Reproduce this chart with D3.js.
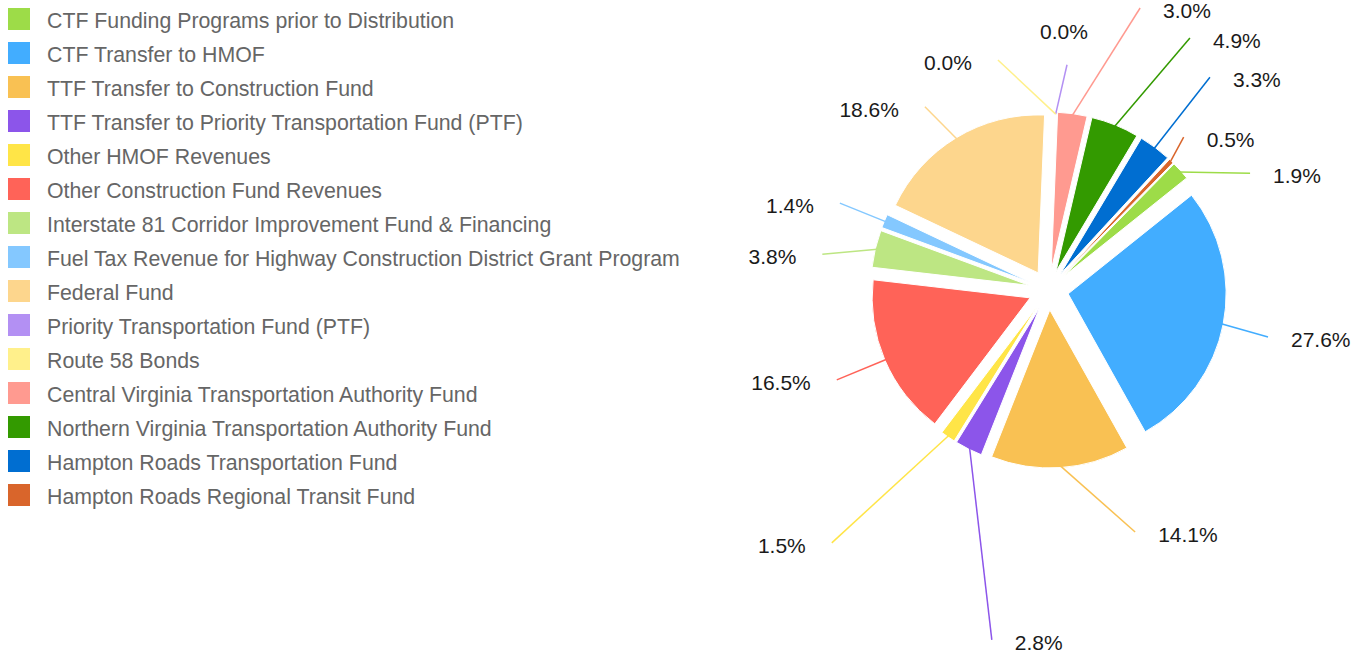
<!DOCTYPE html>
<html>
<head>
<meta charset="utf-8">
<script src="https://cdn.jsdelivr.net/npm/d3@7"></script>
<style>
    body { margin: 0; background: #fff; }
    .legendText { font-family: "Liberation Sans", Arial, sans-serif; font-size: 21.3px; fill: #666; }
    .pctLabel { font-family: "Liberation Sans", Arial, sans-serif; font-size: 21px; fill: #1a1a1a; }
</style>
</head>
<body>
<script>
(function(){

//fund names, in legend / slice order
var categories = [
    "CTF Funding Programs prior to Distribution",
    "CTF Transfer to HMOF",
    "TTF Transfer to Construction Fund",
    "TTF Transfer to Priority Transportation Fund (PTF)",
    "Other HMOF Revenues",
    "Other Construction Fund Revenues",
    "Interstate 81 Corridor Improvement Fund & Financing",
    "Fuel Tax Revenue for Highway Construction District Grant Program",
    "Federal Fund",
    "Priority Transportation Fund (PTF)",
    "Route 58 Bonds",
    "Central Virginia Transportation Authority Fund",
    "Northern Virginia Transportation Authority Fund",
    "Hampton Roads Transportation Fund",
    "Hampton Roads Regional Transit Fund"
];

//share of total, percent
var shares = [1.9, 27.6, 14.1, 2.8, 1.5, 16.5, 3.8, 1.4, 18.6, 0.0, 0.0, 3.0, 4.9, 3.3, 0.5];

var colors = [
    "#9ddc48", "#42adff", "#f9c153", "#8c55ea", "#ffe547",
    "#ff6358", "#bde683", "#84c8ff", "#fdd68d", "#b390f3",
    "#fff08b", "#ff9a90", "#339a00", "#006ed1", "#d9652b"
];

//where each percent label sits (degrees clockwise from top, distance from pie centre)
var labelAngle = [59.9, 102.1, 160.3, 189.2, 220.6, 247, 279, 292.6, 326, 4.7, 347.6, 18, 29.3, 37.2, 41.5];
var labelDist  = [233, 224.5, 257, 354.5, 333, 230, 229, 226, 221, 226, 235.5, 296.5, 289, 267, 204];
var labelSide  = ["r", "r", "r", "r", "l", "l", "l", "l", "l", "t", "l", "r", "r", "r", "r"];

window.onload = drawChart();

function drawChart(){
    var width = 1363,
        height = 655;

    var svg = d3.select("body")
        .append("svg")
        .attr("width", width)
        .attr("height", height);

    drawLegend(svg);
    drawPie(svg);
};

function drawLegend(svg){
    var rowScale = d3.scalePoint()
        .domain(categories)
        .range([19, 19 + 34 * (categories.length - 1)]);

    var rows = svg.selectAll(".legendRow")
        .data(categories)
        .enter()
        .append("g")
        .attr("class", "legendRow")
        .attr("transform", function(d){
            return "translate(0," + rowScale(d) + ")";
        });

    rows.append("rect")
        .attr("x", 8)
        .attr("y", -11)
        .attr("width", 22)
        .attr("height", 22)
        .style("fill", function(d, i){ return colors[i]; });

    rows.append("text")
        .attr("class", "legendText")
        .attr("x", 47)
        .attr("y", 9)
        .text(function(d){ return d; });
};

function drawPie(svg){
    var cx = 1048.5,
        cy = 290,
        radius = 158,
        explode = 20,
        start = 44.5 * Math.PI / 180;

    var pie = d3.pie()
        .sort(null)
        .value(function(d){ return d; })
        .startAngle(start)
        .endAngle(start + 2 * Math.PI);

    var arc = d3.arc()
        .innerRadius(0)
        .outerRadius(radius);

    var slices = pie(shares);

    var g = svg.append("g")
        .attr("transform", "translate(" + cx + "," + cy + ")");

    //every slice pushed out along its mid angle
    g.selectAll(".slice")
        .data(slices)
        .enter()
        .append("path")
        .attr("class", "slice")
        .attr("transform", function(d){
            var m = (d.startAngle + d.endAngle) / 2;
            return "translate(" + (explode * Math.sin(m)) + "," + (-explode * Math.cos(m)) + ")";
        })
        .attr("d", arc)
        .style("fill", function(d, i){ return colors[i]; })
        .style("stroke", "#fff")
        .style("stroke-width", 1);

    //leader lines from the slice edge to the label spot
    function endPoint(i){
        var a = labelAngle[i] * Math.PI / 180;
        return [labelDist[i] * Math.sin(a), -labelDist[i] * Math.cos(a)];
    }

    g.selectAll(".leader")
        .data(slices)
        .enter()
        .append("line")
        .attr("class", "leader")
        .attr("x1", function(d){
            var m = (d.startAngle + d.endAngle) / 2;
            return (radius + explode - 2) * Math.sin(m);
        })
        .attr("y1", function(d){
            var m = (d.startAngle + d.endAngle) / 2;
            return -(radius + explode - 2) * Math.cos(m);
        })
        .attr("x2", function(d, i){ return endPoint(i)[0]; })
        .attr("y2", function(d, i){ return endPoint(i)[1]; })
        .style("stroke", function(d, i){ return colors[i]; })
        .style("stroke-width", 1.5);

    var fmt = d3.format(".1f");

    g.selectAll(".pctLabel")
        .data(slices)
        .enter()
        .append("text")
        .attr("class", "pctLabel")
        .attr("text-anchor", function(d, i){
            return labelSide[i] == "r" ? "start" : (labelSide[i] == "l" ? "end" : "middle");
        })
        .attr("x", function(d, i){
            var p = endPoint(i);
            if (labelSide[i] == "r") return p[0] + 23;
            if (labelSide[i] == "l") return p[0] - 26;
            return p[0] - 3;
        })
        .attr("y", function(d, i){
            var p = endPoint(i);
            if (labelSide[i] == "t") return p[1] - 26;
            return p[1] + 10;
        })
        .text(function(d){ return fmt(d.data) + "%"; });
};

})();
</script>
</body>
</html>
